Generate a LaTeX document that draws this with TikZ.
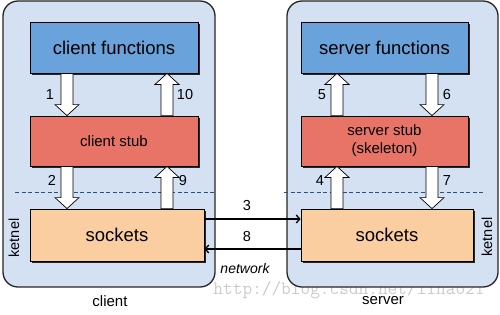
\documentclass[tikz,border=0pt]{standalone}
\usepackage{fontspec}
\setmainfont{Liberation Sans}
\usetikzlibrary{arrows.meta,shadows,calc}

\definecolor{panelfill}{RGB}{211,225,243}
\definecolor{funcfill}{RGB}{106,162,219}
\definecolor{stubfill}{RGB}{232,116,104}
\definecolor{sockfill}{RGB}{250,206,160}
\definecolor{dashblue}{RGB}{40,82,132}

\tikzset{
  panel/.style={draw=black!85, line width=1.3pt, fill=panelfill, rounded corners=15pt,
    minimum width=#1, minimum height=286pt, inner sep=0pt},
  layerbox/.style={draw=black, line width=0.8pt, inner sep=0pt,
    general shadow={fill=black!85, shadow xshift=2.2pt, shadow yshift=-2.2pt}},
  funcbox/.style={layerbox, fill=funcfill, font=\fontsize{18.5}{22}\selectfont},
  stubbox/.style={layerbox, fill=stubfill, font=\fontsize{15}{18}\selectfont, align=center},
  sockbox/.style={layerbox, fill=sockfill, font=\fontsize{18.5}{22}\selectfont},
  blk/.style={draw=black, line width=0.7pt, fill=white, line join=miter},
  net/.style={draw=black, line width=1.4pt, -{Straight Barb[length=3.5pt,width=8pt,line width=1.3pt]}},
  num/.style={font=\fontsize{14.5}{17}\selectfont, inner sep=0pt},
  caption/.style={font=\fontsize{15}{18}\selectfont, inner sep=0pt},
  kernlabel/.style={font=\fontsize{14.5}{17}\selectfont, rotate=90, inner sep=0pt},
  divider/.style={draw=dashblue, line width=1pt, dash pattern=on 4pt off 2.5pt}
}

% block arrow pointing down from node #2 to node #3, centred at x=#1
\newcommand{\blkdown}[3]{%
  \draw[blk] let \p1=(#2.south), \p2=(#3.north) in
    ({#1pt-6pt},\y1) -- ({#1pt+6pt},\y1) -- ({#1pt+6pt},{\y2+11pt}) --
    ({#1pt+12pt},{\y2+11pt}) -- ({#1pt},\y2) -- ({#1pt-12pt},{\y2+11pt}) --
    ({#1pt-6pt},{\y2+11pt}) -- cycle;}
% block arrow pointing up from node #2 to node #3, centred at x=#1
\newcommand{\blkup}[3]{%
  \draw[blk] let \p1=(#2.north), \p2=(#3.south) in
    ({#1pt-6pt},\y1) -- ({#1pt+6pt},\y1) -- ({#1pt+6pt},{\y2-11pt}) --
    ({#1pt+12pt},{\y2-11pt}) -- ({#1pt},\y2) -- ({#1pt-12pt},{\y2-11pt}) --
    ({#1pt-6pt},{\y2-11pt}) -- cycle;}

\begin{document}
\begin{tikzpicture}[x=1pt, y=-1pt]
  \useasboundingbox (0,0) rectangle (500,314);
  \fill[white] (0,0) rectangle (500,314);

  % watermark
  \node[text=black!20, font=\ttfamily\fontsize{18.8}{20}\selectfont, inner sep=0pt]
    (wm) at (349,290) {http://blog.csdn.net/lihao21};

  % machines
  \node[panel=212pt] (lp) at (109,144) {};
  \node[panel=211pt] (rp) at (392.5,144) {};

  % kernel boundary
  \draw[divider] (15,192) -- (215,192);
  \draw[divider] (284,192) -- (483,192);

  % client side
  \node[funcbox, minimum width=168pt, minimum height=51pt] (cf) at (114,47.5) {client functions};
  \node[stubbox, minimum width=168pt, minimum height=50pt] (cs) at (114,141) {client stub};
  \node[sockbox, minimum width=174pt, minimum height=52pt] (ls) at (117,235) {sockets};

  % server side
  \node[funcbox, minimum width=167pt, minimum height=51pt] (sf) at (384.5,47.5) {server functions};
  \node[stubbox, minimum width=167pt, minimum height=50pt] (ss) at (384.5,141) {server stub\\(skeleton)};
  \node[sockbox, minimum width=172pt, minimum height=52pt] (rs) at (387,235) {sockets};

  % call flow
  \blkdown{67}{cf}{cs}
  \blkup{167}{cs}{cf}
  \blkdown{67}{cs}{ls}
  \blkup{167}{ls}{cs}
  \blkup{337}{rs}{ss}
  \blkup{337}{ss}{sf}
  \blkdown{432}{sf}{ss}
  \blkdown{432}{ss}{rs}

  \node[num] (n1) at (50,95) {1};
  \node[num] (n10) at (185,95) {10};
  \node[num] (n2) at (52,180) {2};
  \node[num] (n9) at (183,181) {9};
  \node[num] (n5) at (322,95) {5};
  \node[num] (n6) at (447,95) {6};
  \node[num] (n4) at (320,181) {4};
  \node[num] (n7) at (447,181) {7};

  % network
  \draw[net] ([yshift=16pt]ls.east) -- ([yshift=16pt]rs.west);
  \draw[net] ([yshift=-14pt]rs.west) -- ([yshift=-14pt]ls.east);
  \node[num] (n3) at (247,206) {3};
  \node[num] (n8) at (247,237) {8};
  \node[num, font=\fontsize{14}{16}\selectfont\itshape] (nw) at (245,268) {network};

  % captions
  \node[kernlabel] (kl) at (14,238) {ketnel};
  \node[kernlabel] (kr) at (487,237) {ketnel};
  \node[caption] (cl) at (110,301) {client};
  \node[caption] (sl) at (383,301) {server};
\end{tikzpicture}
\end{document}
